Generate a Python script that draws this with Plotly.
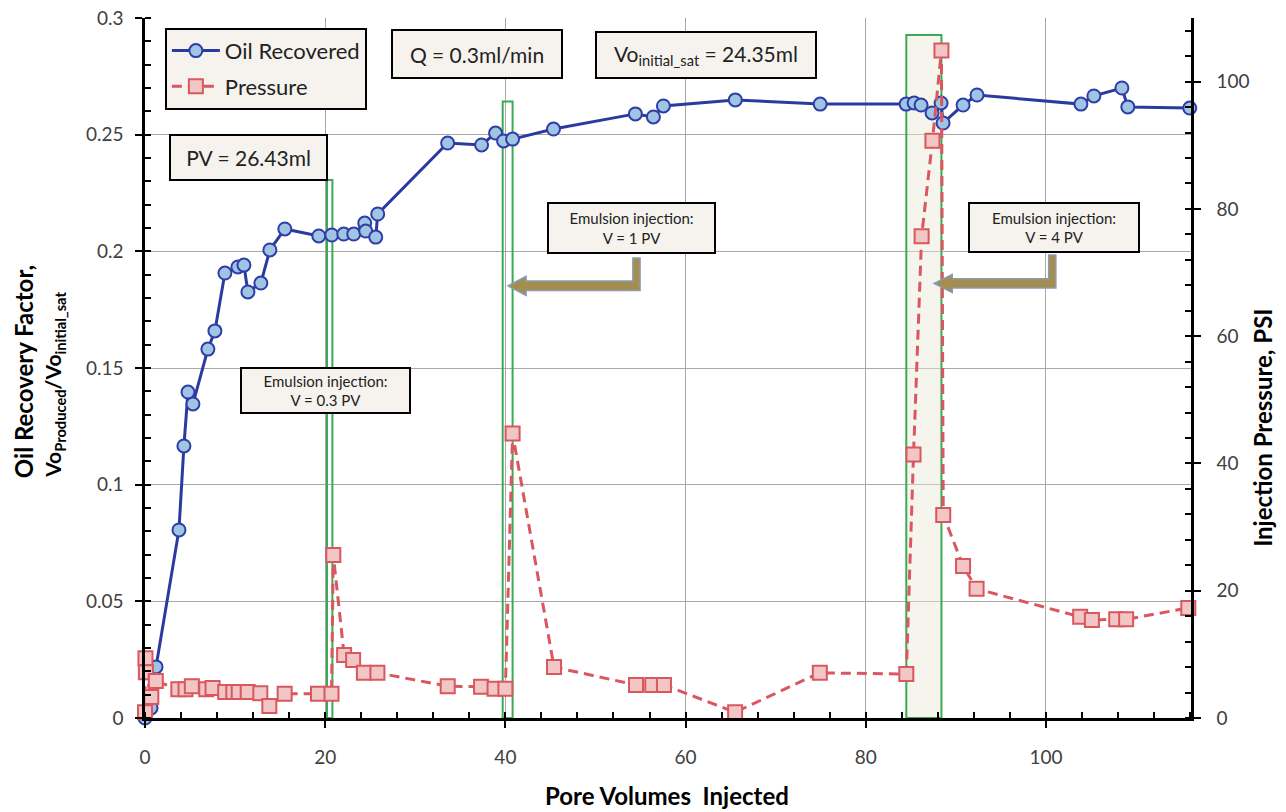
import plotly.graph_objects as go

# ---------------- data ----------------
pv_oil = [0, 0.67, 1.22, 3.77, 4.32, 4.77, 5.32, 6.98, 7.76, 8.87, 10.31, 10.98, 11.42,
          12.86, 13.86, 15.52, 19.29, 20.73, 22.06, 23.17, 24.39, 24.50, 25.61, 25.83,
          33.59, 37.36, 38.91, 39.80, 40.80, 45.34, 54.43, 56.43, 57.54, 65.52, 74.94,
          84.48, 85.37, 86.14, 87.36, 88.36, 88.58, 90.80, 92.35, 103.88, 105.32,
          108.43, 109.09, 115.96]
oil_recovered = [0, 0.0043, 0.0219, 0.0806, 0.1166, 0.1397, 0.1346, 0.1581, 0.1659, 0.1907,
                 0.1933, 0.1941, 0.1826, 0.1864, 0.2006, 0.2096, 0.2066, 0.2070, 0.2074,
                 0.2074, 0.2121, 0.2087, 0.2061, 0.2160, 0.2464, 0.2456, 0.2507, 0.2473,
                 0.2481, 0.2524, 0.2589, 0.2576, 0.2623, 0.2649, 0.2631, 0.2631, 0.2636,
                 0.2627, 0.2593, 0.2636, 0.2550, 0.2627, 0.2670, 0.2631, 0.2666, 0.2700,
                 0.2619, 0.2614]

pv_pressure = [0, 0.05, 0.1, 0.7, 1.2, 3.7, 4.5, 5.2, 6.8, 7.5, 8.9, 9.8, 10.4, 11.4,
               12.8, 13.8, 15.5, 19.2, 20.7, 20.9, 22.1, 23.1, 24.3, 25.8, 33.6, 37.3,
               38.8, 40.0, 40.8, 45.4, 54.5, 56.3, 57.6, 65.5, 74.9, 84.5, 85.3, 86.2,
               87.4, 88.4, 88.6, 90.8, 92.3, 103.8, 105.1, 107.8, 108.9, 115.8]
pressure = [0.9, 9.4, 7.2, 3.3, 5.8, 4.5, 4.5, 5.0, 4.5, 4.7, 4.1, 4.1, 4.1, 4.1,
            3.9, 1.9, 3.8, 3.8, 3.8, 25.6, 9.9, 9.1, 7.1, 7.1, 5.0, 4.9,
            4.6, 4.6, 44.7, 8.0, 5.2, 5.2, 5.2, 0.9, 7.1, 6.9, 41.4, 75.7,
            90.7, 104.9, 31.9, 23.9, 20.3, 15.9, 15.4, 15.5, 15.5, 17.3]

# injection windows: (start PV, end PV, top on left axis)
injection_windows = [(20.2, 20.8, 0.2306), (39.7, 40.8, 0.2642), (84.5, 88.4, 0.2927)]

x_ticks = [0, 20, 40, 60, 80, 100]
y_left_ticks = [0, 0.05, 0.1, 0.15, 0.2, 0.25, 0.3]
y_left_ticktext = ["0", "0.05", "0.1", "0.15", "0.2", "0.25", "0.3"]
y_right_ticks = [0, 20, 40, 60, 80, 100]

x_range = [0, 116.1]
y_left_range = [0, 0.3]
y_right_range = [0, 110]

FONT = "Lato, Carlito, Calibri, sans-serif"
TICK_COLOR = "#404040"

fig = go.Figure()

fig.add_trace(go.Scatter(
    x=pv_oil, y=oil_recovered, name="Oil Recovered", mode="lines+markers",
    line=dict(color="#2b3aa0", width=3),
    marker=dict(symbol="circle", size=13, color="#9fc4e4",
                line=dict(color="#2e3ea6", width=2)),
    cliponaxis=False, yaxis="y", legendgroup="a"))

fig.add_trace(go.Scatter(
    x=pv_pressure, y=pressure, name="Pressure", mode="lines+markers",
    line=dict(color="#d9575e", width=3, dash="10px,6px"),
    marker=dict(symbol="square", size=14, color="#f3c6c6",
                line=dict(color="#d9575e", width=2)),
    cliponaxis=False, yaxis="y2", legendgroup="b"))

shapes = []
for i, (x0, x1, top) in enumerate(injection_windows):
    shapes.append(dict(
        type="rect", xref="x", yref="y", x0=x0, x1=x1, y0=0, y1=top,
        line=dict(color="#3aaa55", width=2),
        fillcolor="rgba(235,232,215,0.45)" if i == 2 else "rgba(0,0,0,0)",
        layer="between"))

arrow_paths = [
    "M 40.3,0.1852 L 42.3,0.1893 L 42.3,0.1873 L 54.15,0.1873 L 54.15,0.1971 "
    "L 54.95,0.1971 L 54.95,0.1832 L 42.3,0.1832 L 42.3,0.1811 Z",
    "M 87.6,0.1862 L 89.6,0.1901 L 89.6,0.1882 L 100.3,0.1882 L 100.3,0.1984 "
    "L 101.1,0.1984 L 101.1,0.1843 L 89.6,0.1843 L 89.6,0.1823 Z",
]
for p in arrow_paths:
    shapes.append(dict(type="path", xref="x", yref="y", path=p,
                       fillcolor="#a38d4f", line=dict(color="#8a9bb5", width=1.5),
                       layer="above"))

BOX_BG = "#f6f3ee"


def box(text, x, y, w, h, size):
    return dict(text=text, x=x, y=y, xref="x", yref="y", xanchor="center",
                yanchor="middle", showarrow=False, width=w - 10, height=h - 10,
                borderpad=4, bordercolor="black", borderwidth=2, bgcolor=BOX_BG,
                font=dict(family=FONT, size=size, color="#222222"), align="center")


annotations = [
    box("Q = 0.3ml/min", 36.9, 0.2846, 170, 48, 21),
    box("Vo<sub>initial_sat</sub> = 24.35ml", 62.3, 0.2841, 220, 46, 21),
    box("PV = 26.43ml", 11.47, 0.2402, 157, 45, 21),
    box("Emulsion injection:<br>V = 0.3 PV", 20.0, 0.1404, 169, 45, 15),
    box("Emulsion injection:<br>V = 1 PV", 54.05, 0.2100, 167, 50, 15),
    box("Emulsion injection:<br>V = 4 PV", 100.9, 0.2102, 170, 49, 15),
    dict(text="<b>Oil Recovery Factor,</b>", x=-0.116, y=0.495, xref="paper",
         yref="paper", textangle=-90, showarrow=False, xanchor="center",
         yanchor="middle", font=dict(family=FONT, size=24, color="black")),
    dict(text="<b>Vo<sub>Produced</sub>/Vo<sub>initial_sat</sub></b>", x=-0.087,
         y=0.476, xref="paper", yref="paper", textangle=-90, showarrow=False,
         xanchor="center", yanchor="middle",
         font=dict(family=FONT, size=21, color="black")),
    dict(text="<b>Injection Pressure, PSI</b>", x=1.0685, y=0.414, xref="paper",
         yref="paper", textangle=-90, showarrow=False, xanchor="center",
         yanchor="middle", font=dict(family=FONT, size=24, color="black")),
    dict(text="<b>Pore Volumes  Injected</b>", x=0.499, y=-0.11, xref="paper",
         yref="paper", showarrow=False, xanchor="center", yanchor="middle",
         font=dict(family=FONT, size=24, color="black")),
]

axis_common = dict(
    showline=True, linecolor="black", linewidth=2.5, ticks="outside", ticklen=7,
    tickwidth=2, tickcolor="black", zeroline=False, ticklabeloverflow="allow",
    tickfont=dict(family=FONT, size=19, color=TICK_COLOR),
)

# The page body has an 8px margin, so the figure is sized to fill the window from there.
fig.update_layout(
    width=1278, height=804,
    margin=dict(l=137, r=95, t=10, b=94, autoexpand=False),
    paper_bgcolor="white", plot_bgcolor="white",
    font=dict(family=FONT),
    xaxis=dict(range=x_range, tickvals=x_ticks, showgrid=True, gridcolor="#a8a8a8",
               gridwidth=1, ticklabelstandoff=13,
               minor=dict(dtick=4, tick0=0, ticks="inside", ticklen=6, tickwidth=1.5,
                          tickcolor="black", showgrid=False),
               **axis_common),
    yaxis=dict(range=y_left_range, tickvals=y_left_ticks, ticktext=y_left_ticktext,
               showgrid=True, gridcolor="#a8a8a8", gridwidth=1, ticklabelstandoff=8,
               minor=dict(dtick=0.01, tick0=0, ticks="inside", ticklen=6,
                          tickwidth=1.5, tickcolor="black", showgrid=False),
               **axis_common),
    yaxis2=dict(range=y_right_range, tickvals=y_right_ticks, overlaying="y",
                side="right", showgrid=False, ticklabelstandoff=12,
                minor=dict(dtick=4, tick0=0, ticks="inside", ticklen=6, tickwidth=1.5,
                           tickcolor="black", showgrid=False),
                **axis_common),
    legend=dict(x=0.019, y=0.986, xanchor="left", yanchor="top", bgcolor=BOX_BG,
                bordercolor="black", borderwidth=2, tracegroupgap=4,
                traceorder="grouped", itemwidth=48,
                font=dict(family=FONT, size=22, color="#222222")),
    shapes=shapes,
    annotations=annotations,
)

fig.write_html("out.html")
